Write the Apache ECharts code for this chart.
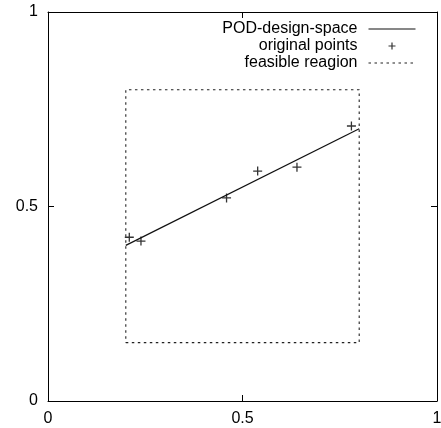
<!DOCTYPE html>
<html>
<head>
<meta charset="utf-8">
<script src="https://cdn.jsdelivr.net/npm/echarts@6/dist/echarts.min.js"></script>
<style>
  html, body { margin: 0; padding: 0; background: #fff; }
  #chart { width: 441px; height: 428px; }
</style>
</head>
<body>
<div id="chart"></div>
<script>
// data
var podX = [0.2, 0.8]
var podY = [0.40, 0.70]
var pointsX = [0.209, 0.239, 0.459, 0.539, 0.640, 0.780]
var pointsY = [0.421, 0.411, 0.522, 0.591, 0.601, 0.707]
var regionX = [0.2, 0.8, 0.8, 0.2, 0.2]
var regionY = [0.15, 0.15, 0.8, 0.8, 0.15]
var tickLabels = ['0', '0.5', '1']
var seriesNames = ['POD-design-space', 'original points', 'feasible reagion']

var font = 'Liberation Sans, Arial, Helvetica, sans-serif'
var dash = [2.5, 3.5]
var plus = 'path://M0,5L10,5M5,0L5,10'
// legend icons, padded to the full 47x10 box so they keep their size
var plusIcon = 'path://M0,0M47,10M20,5L27,5M23.5,1.5L23.5,8.5'
var lineIcon = 'path://M0,0M47,10M0,5L47,5'

function zip(xs, ys) {
  return xs.map(function (x, i) { return [x, ys[i]] })
}

var chart = echarts.init(document.getElementById('chart'))

function valueAxis(pos, showLabel) {
  return {
    type: 'value',
    position: pos,
    min: 0,
    max: 1,
    interval: 0.5,
    axisLine: { show: true, onZero: false, lineStyle: { color: '#000', width: 1 } },
    axisTick: { show: true, inside: true, length: 6, lineStyle: { color: '#000' } },
    axisLabel: {
      show: showLabel,
      margin: 10,
      color: '#000',
      fontSize: 16,
      fontFamily: font,
      formatter: function (v) { return tickLabels[Math.round(v * 2)] }
    },
    splitLine: { show: false }
  }
}

var option = {
  animation: false,
  backgroundColor: '#fff',
  grid: { left: 48, right: 4, top: 12, bottom: 27, outerBoundsMode: 'none' },
  xAxis: [valueAxis('bottom', true), valueAxis('top', false)],
  yAxis: [valueAxis('left', true), valueAxis('right', false)],
  legend: {
    orient: 'vertical',
    right: 23,
    top: 21,
    padding: 0,
    align: 'right',
    itemWidth: 47,
    itemHeight: 10,
    itemGap: 1,
    selectedMode: false,
    textStyle: { color: '#000', fontSize: 16, fontFamily: font, padding: [0, 6, 0, 0] },
    data: [
      { name: seriesNames[0], icon: lineIcon, itemStyle: { color: 'none', borderColor: '#111', borderWidth: 1.2 } },
      { name: seriesNames[1], icon: plusIcon, itemStyle: { color: 'none', borderColor: '#000', borderWidth: 1.2 } },
      { name: seriesNames[2], icon: lineIcon, itemStyle: { color: 'none', borderColor: '#222', borderWidth: 1.1, borderType: dash } }
    ]
  },
  series: [
    {
      name: seriesNames[0],
      type: 'line',
      symbol: 'none',
      itemStyle: { color: '#111' },
      lineStyle: { color: '#111', width: 1.2 },
      data: zip(podX, podY)
    },
    {
      name: seriesNames[1],
      type: 'scatter',
      symbol: plus,
      symbolSize: 9,
      itemStyle: { color: 'none', borderColor: '#000', borderWidth: 1.3 },
      data: zip(pointsX, pointsY)
    },
    {
      name: seriesNames[2],
      type: 'line',
      symbol: 'none',
      itemStyle: { color: '#222' },
      lineStyle: { color: '#222', width: 1.1, type: dash },
      data: zip(regionX, regionY)
    }
  ]
}

chart.setOption(option)
window.onresize = chart.resize
</script>
</body>
</html>
